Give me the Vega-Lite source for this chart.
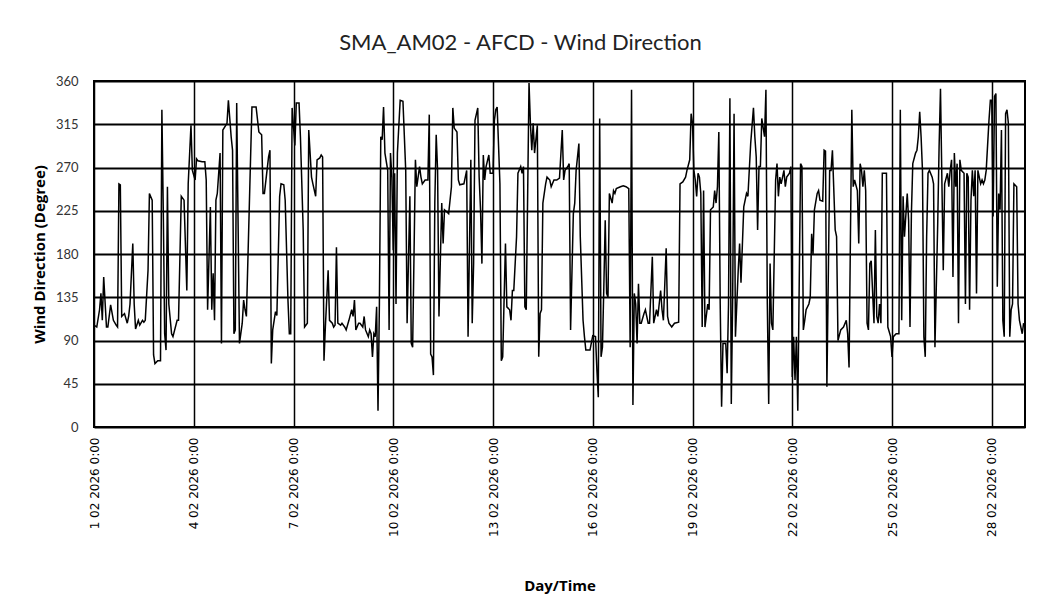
{
  "$schema": "https://vega.github.io/schema/vega-lite/v6.json",
  "width": 931,
  "height": 346,
  "autosize": {"type": "none"},
  "padding": {"left": 94, "top": 81, "right": 16, "bottom": 178},
  "background": "white",
  "title": {
    "text": "SMA_AM02 - AFCD - Wind Direction",
    "font": "Lato",
    "fontSize": 22,
    "fontWeight": "normal",
    "color": "#222222",
    "anchor": "middle",
    "dx": -39,
    "offset": 20
  },
  "config": {
    "view": {"stroke": "black", "strokeWidth": 2},
    "axis": {"gridColor": "black", "gridOpacity": 1, "domain": false, "ticks": false}
  },
  "data": {
    "values": [
{"t":"2026-02-01T00:00","v":106},{"t":"2026-02-01T02:00","v":104},{"t":"2026-02-01T04:00","v":122},{"t":"2026-02-01T05:00","v":139},{"t":"2026-02-01T06:00","v":111},{"t":"2026-02-01T07:00","v":156},{"t":"2026-02-01T09:00","v":104},{"t":"2026-02-01T10:00","v":104},{"t":"2026-02-01T12:00","v":127},{"t":"2026-02-01T14:00","v":111},{"t":"2026-02-01T16:00","v":106},{"t":"2026-02-01T17:00","v":104},{"t":"2026-02-01T18:00","v":253},{"t":"2026-02-01T19:00","v":252},{"t":"2026-02-01T20:00","v":115},{"t":"2026-02-01T22:00","v":118},
{"t":"2026-02-02T00:00","v":108},{"t":"2026-02-02T01:00","v":115},{"t":"2026-02-02T02:00","v":128},{"t":"2026-02-02T04:00","v":191},{"t":"2026-02-02T05:00","v":128},{"t":"2026-02-02T06:00","v":102},{"t":"2026-02-02T08:00","v":111},{"t":"2026-02-02T09:00","v":106},{"t":"2026-02-02T11:00","v":111},{"t":"2026-02-02T12:00","v":109},{"t":"2026-02-02T13:00","v":111},{"t":"2026-02-02T15:00","v":163},{"t":"2026-02-02T16:00","v":243},{"t":"2026-02-02T18:00","v":236},{"t":"2026-02-02T19:00","v":75},{"t":"2026-02-02T20:00","v":66},{"t":"2026-02-02T22:00","v":69},
{"t":"2026-02-03T00:00","v":69},{"t":"2026-02-03T01:00","v":330},{"t":"2026-02-03T02:00","v":226},{"t":"2026-02-03T03:00","v":97},{"t":"2026-02-03T04:00","v":80},{"t":"2026-02-03T05:00","v":250},{"t":"2026-02-03T06:00","v":128},{"t":"2026-02-03T08:00","v":97},{"t":"2026-02-03T09:00","v":94},{"t":"2026-02-03T12:00","v":111},{"t":"2026-02-03T13:00","v":111},{"t":"2026-02-03T15:00","v":240},{"t":"2026-02-03T17:00","v":236},{"t":"2026-02-03T19:00","v":142},{"t":"2026-02-03T20:00","v":253},{"t":"2026-02-03T22:00","v":314},{"t":"2026-02-03T23:00","v":267},
{"t":"2026-02-04T01:00","v":257},{"t":"2026-02-04T02:00","v":279},{"t":"2026-02-04T03:00","v":277},{"t":"2026-02-04T06:00","v":276},{"t":"2026-02-04T08:00","v":276},{"t":"2026-02-04T09:00","v":257},{"t":"2026-02-04T10:00","v":122},{"t":"2026-02-04T12:00","v":229},{"t":"2026-02-04T13:00","v":122},{"t":"2026-02-04T14:00","v":160},{"t":"2026-02-04T15:00","v":111},{"t":"2026-02-04T16:00","v":236},{"t":"2026-02-04T17:00","v":243},{"t":"2026-02-04T19:00","v":285},{"t":"2026-02-04T20:00","v":87},{"t":"2026-02-04T21:00","v":309},
{"t":"2026-02-05T00:00","v":316},{"t":"2026-02-05T01:00","v":340},{"t":"2026-02-05T03:00","v":302},{"t":"2026-02-05T04:00","v":288},{"t":"2026-02-05T05:00","v":97},{"t":"2026-02-05T06:00","v":101},{"t":"2026-02-05T07:00","v":337},{"t":"2026-02-05T09:00","v":87},{"t":"2026-02-05T11:00","v":108},{"t":"2026-02-05T12:00","v":132},{"t":"2026-02-05T13:00","v":122},{"t":"2026-02-05T14:00","v":115},{"t":"2026-02-05T17:00","v":279},{"t":"2026-02-05T18:00","v":333},{"t":"2026-02-05T21:00","v":333},{"t":"2026-02-05T23:00","v":307},
{"t":"2026-02-06T01:00","v":304},{"t":"2026-02-06T02:00","v":243},{"t":"2026-02-06T03:00","v":243},{"t":"2026-02-06T06:00","v":281},{"t":"2026-02-06T07:00","v":288},{"t":"2026-02-06T08:00","v":66},{"t":"2026-02-06T09:00","v":101},{"t":"2026-02-06T11:00","v":120},{"t":"2026-02-06T12:00","v":116},{"t":"2026-02-06T14:00","v":240},{"t":"2026-02-06T15:00","v":253},{"t":"2026-02-06T17:00","v":252},{"t":"2026-02-06T18:00","v":236},{"t":"2026-02-06T20:00","v":132},{"t":"2026-02-06T21:00","v":97},{"t":"2026-02-06T22:00","v":97},{"t":"2026-02-06T23:00","v":332},
{"t":"2026-02-07T01:00","v":293},{"t":"2026-02-07T02:00","v":337},{"t":"2026-02-07T04:00","v":337},{"t":"2026-02-07T05:00","v":302},{"t":"2026-02-07T07:00","v":205},{"t":"2026-02-07T08:00","v":104},{"t":"2026-02-07T10:00","v":108},{"t":"2026-02-07T11:00","v":309},{"t":"2026-02-07T13:00","v":260},{"t":"2026-02-07T14:00","v":253},{"t":"2026-02-07T16:00","v":240},{"t":"2026-02-07T17:00","v":278},{"t":"2026-02-07T19:00","v":280},{"t":"2026-02-07T20:00","v":283},{"t":"2026-02-07T21:00","v":281},{"t":"2026-02-07T22:00","v":69},{"t":"2026-02-07T23:00","v":104},
{"t":"2026-02-08T01:00","v":163},{"t":"2026-02-08T02:00","v":111},{"t":"2026-02-08T04:00","v":108},{"t":"2026-02-08T05:00","v":104},{"t":"2026-02-08T06:00","v":106},{"t":"2026-02-08T07:00","v":187},{"t":"2026-02-08T08:00","v":108},{"t":"2026-02-08T10:00","v":106},{"t":"2026-02-08T11:00","v":108},{"t":"2026-02-08T13:00","v":104},{"t":"2026-02-08T14:00","v":101},{"t":"2026-02-08T16:00","v":111},{"t":"2026-02-08T18:00","v":122},{"t":"2026-02-08T19:00","v":115},{"t":"2026-02-08T20:00","v":132},{"t":"2026-02-08T21:00","v":101},{"t":"2026-02-08T23:00","v":108},
{"t":"2026-02-09T00:00","v":108},{"t":"2026-02-09T02:00","v":104},{"t":"2026-02-09T03:00","v":115},{"t":"2026-02-09T04:00","v":101},{"t":"2026-02-09T06:00","v":94},{"t":"2026-02-09T07:00","v":101},{"t":"2026-02-09T08:00","v":97},{"t":"2026-02-09T09:00","v":73},{"t":"2026-02-09T10:00","v":97},{"t":"2026-02-09T11:00","v":94},{"t":"2026-02-09T12:00","v":125},{"t":"2026-02-09T13:00","v":17},{"t":"2026-02-09T14:00","v":128},{"t":"2026-02-09T15:00","v":302},{"t":"2026-02-09T16:00","v":299},{"t":"2026-02-09T17:00","v":333},{"t":"2026-02-09T18:00","v":285},{"t":"2026-02-09T20:00","v":267},{"t":"2026-02-09T21:00","v":101},{"t":"2026-02-09T22:00","v":285},{"t":"2026-02-09T23:00","v":260},
{"t":"2026-02-10T00:00","v":184},{"t":"2026-02-10T01:00","v":264},{"t":"2026-02-10T02:00","v":128},{"t":"2026-02-10T03:00","v":285},{"t":"2026-02-10T05:00","v":340},{"t":"2026-02-10T07:00","v":339},{"t":"2026-02-10T09:00","v":267},{"t":"2026-02-10T10:00","v":108},{"t":"2026-02-10T12:00","v":240},{"t":"2026-02-10T13:00","v":87},{"t":"2026-02-10T14:00","v":83},{"t":"2026-02-10T16:00","v":278},{"t":"2026-02-10T17:00","v":250},{"t":"2026-02-10T19:00","v":271},{"t":"2026-02-10T20:00","v":260},{"t":"2026-02-10T21:00","v":253},{"t":"2026-02-10T23:00","v":257},
{"t":"2026-02-11T01:00","v":257},{"t":"2026-02-11T02:00","v":325},{"t":"2026-02-11T03:00","v":76},{"t":"2026-02-11T04:00","v":73},{"t":"2026-02-11T05:00","v":54},{"t":"2026-02-11T06:00","v":233},{"t":"2026-02-11T07:00","v":304},{"t":"2026-02-11T08:00","v":267},{"t":"2026-02-11T09:00","v":115},{"t":"2026-02-11T11:00","v":233},{"t":"2026-02-11T12:00","v":191},{"t":"2026-02-11T13:00","v":226},{"t":"2026-02-11T16:00","v":222},{"t":"2026-02-11T18:00","v":250},{"t":"2026-02-11T19:00","v":332},{"t":"2026-02-11T20:00","v":311},{"t":"2026-02-11T22:00","v":307},{"t":"2026-02-11T23:00","v":257},
{"t":"2026-02-12T00:00","v":252},{"t":"2026-02-12T03:00","v":253},{"t":"2026-02-12T05:00","v":267},{"t":"2026-02-12T06:00","v":94},{"t":"2026-02-12T08:00","v":278},{"t":"2026-02-12T09:00","v":108},{"t":"2026-02-12T10:00","v":170},{"t":"2026-02-12T11:00","v":319},{"t":"2026-02-12T13:00","v":332},{"t":"2026-02-12T14:00","v":260},{"t":"2026-02-12T15:00","v":226},{"t":"2026-02-12T16:00","v":170},{"t":"2026-02-12T17:00","v":283},{"t":"2026-02-12T18:00","v":257},{"t":"2026-02-12T19:00","v":271},{"t":"2026-02-12T21:00","v":283},{"t":"2026-02-12T22:00","v":264},
{"t":"2026-02-13T00:00","v":264},{"t":"2026-02-13T01:00","v":319},{"t":"2026-02-13T02:00","v":330},{"t":"2026-02-13T03:00","v":333},{"t":"2026-02-13T05:00","v":253},{"t":"2026-02-13T06:00","v":69},{"t":"2026-02-13T07:00","v":73},{"t":"2026-02-13T09:00","v":191},{"t":"2026-02-13T10:00","v":125},{"t":"2026-02-13T12:00","v":122},{"t":"2026-02-13T13:00","v":111},{"t":"2026-02-13T14:00","v":142},{"t":"2026-02-13T15:00","v":142},{"t":"2026-02-13T17:00","v":198},{"t":"2026-02-13T18:00","v":264},{"t":"2026-02-13T20:00","v":271},{"t":"2026-02-13T21:00","v":264},{"t":"2026-02-13T22:00","v":271},{"t":"2026-02-13T23:00","v":125},
{"t":"2026-02-14T00:00","v":122},{"t":"2026-02-14T02:00","v":358},{"t":"2026-02-14T03:00","v":316},{"t":"2026-02-14T04:00","v":288},{"t":"2026-02-14T05:00","v":316},{"t":"2026-02-14T06:00","v":285},{"t":"2026-02-14T08:00","v":314},{"t":"2026-02-14T09:00","v":73},{"t":"2026-02-14T10:00","v":118},{"t":"2026-02-14T11:00","v":122},{"t":"2026-02-14T12:00","v":233},{"t":"2026-02-14T14:00","v":253},{"t":"2026-02-14T15:00","v":260},{"t":"2026-02-14T17:00","v":257},{"t":"2026-02-14T18:00","v":250},{"t":"2026-02-14T20:00","v":257},{"t":"2026-02-14T22:00","v":257},
{"t":"2026-02-15T00:00","v":259},{"t":"2026-02-15T02:00","v":309},{"t":"2026-02-15T03:00","v":257},{"t":"2026-02-15T04:00","v":267},{"t":"2026-02-15T06:00","v":271},{"t":"2026-02-15T07:00","v":274},{"t":"2026-02-15T08:00","v":101},{"t":"2026-02-15T10:00","v":222},{"t":"2026-02-15T11:00","v":233},{"t":"2026-02-15T12:00","v":267},{"t":"2026-02-15T14:00","v":295},{"t":"2026-02-15T15:00","v":198},{"t":"2026-02-15T17:00","v":111},{"t":"2026-02-15T18:00","v":94},{"t":"2026-02-15T19:00","v":80},{"t":"2026-02-15T21:00","v":80},{"t":"2026-02-15T22:00","v":80},
{"t":"2026-02-16T00:00","v":95},{"t":"2026-02-16T02:00","v":94},{"t":"2026-02-16T03:00","v":59},{"t":"2026-02-16T04:00","v":31},{"t":"2026-02-16T05:00","v":321},{"t":"2026-02-16T06:00","v":73},{"t":"2026-02-16T07:00","v":83},{"t":"2026-02-16T08:00","v":146},{"t":"2026-02-16T09:00","v":215},{"t":"2026-02-16T10:00","v":139},{"t":"2026-02-16T11:00","v":135},{"t":"2026-02-16T12:00","v":243},{"t":"2026-02-16T14:00","v":233},{"t":"2026-02-16T15:00","v":246},{"t":"2026-02-16T16:00","v":243},{"t":"2026-02-16T17:00","v":248},{"t":"2026-02-16T20:00","v":250},{"t":"2026-02-16T22:00","v":251},
{"t":"2026-02-17T00:00","v":250},{"t":"2026-02-17T02:00","v":248},{"t":"2026-02-17T03:00","v":83},{"t":"2026-02-17T04:00","v":351},{"t":"2026-02-17T05:00","v":23},{"t":"2026-02-17T06:00","v":139},{"t":"2026-02-17T07:00","v":128},{"t":"2026-02-17T08:00","v":87},{"t":"2026-02-17T09:00","v":149},{"t":"2026-02-17T10:00","v":108},{"t":"2026-02-17T11:00","v":108},{"t":"2026-02-17T13:00","v":118},{"t":"2026-02-17T14:00","v":122},{"t":"2026-02-17T16:00","v":108},{"t":"2026-02-17T17:00","v":108},{"t":"2026-02-17T19:00","v":177},{"t":"2026-02-17T20:00","v":108},{"t":"2026-02-17T22:00","v":122},{"t":"2026-02-17T23:00","v":115},
{"t":"2026-02-18T01:00","v":142},{"t":"2026-02-18T02:00","v":122},{"t":"2026-02-18T03:00","v":111},{"t":"2026-02-18T05:00","v":186},{"t":"2026-02-18T06:00","v":115},{"t":"2026-02-18T07:00","v":108},{"t":"2026-02-18T09:00","v":104},{"t":"2026-02-18T11:00","v":108},{"t":"2026-02-18T14:00","v":109},{"t":"2026-02-18T15:00","v":253},{"t":"2026-02-18T17:00","v":255},{"t":"2026-02-18T19:00","v":260},{"t":"2026-02-18T20:00","v":267},{"t":"2026-02-18T22:00","v":278},{"t":"2026-02-18T23:00","v":326},
{"t":"2026-02-19T00:00","v":316},{"t":"2026-02-19T01:00","v":267},{"t":"2026-02-19T02:00","v":257},{"t":"2026-02-19T03:00","v":240},{"t":"2026-02-19T04:00","v":264},{"t":"2026-02-19T05:00","v":260},{"t":"2026-02-19T06:00","v":243},{"t":"2026-02-19T07:00","v":104},{"t":"2026-02-19T08:00","v":246},{"t":"2026-02-19T09:00","v":104},{"t":"2026-02-19T11:00","v":128},{"t":"2026-02-19T12:00","v":122},{"t":"2026-02-19T13:00","v":226},{"t":"2026-02-19T15:00","v":229},{"t":"2026-02-19T16:00","v":246},{"t":"2026-02-19T17:00","v":233},{"t":"2026-02-19T18:00","v":250},{"t":"2026-02-19T19:00","v":307},{"t":"2026-02-19T20:00","v":128},{"t":"2026-02-19T21:00","v":21},{"t":"2026-02-19T22:00","v":87},
{"t":"2026-02-20T00:00","v":87},{"t":"2026-02-20T01:00","v":56},{"t":"2026-02-20T02:00","v":128},{"t":"2026-02-20T03:00","v":342},{"t":"2026-02-20T04:00","v":24},{"t":"2026-02-20T05:00","v":135},{"t":"2026-02-20T06:00","v":326},{"t":"2026-02-20T07:00","v":94},{"t":"2026-02-20T09:00","v":163},{"t":"2026-02-20T10:00","v":191},{"t":"2026-02-20T11:00","v":150},{"t":"2026-02-20T13:00","v":229},{"t":"2026-02-20T15:00","v":243},{"t":"2026-02-20T16:00","v":240},{"t":"2026-02-20T18:00","v":295},{"t":"2026-02-20T20:00","v":332},{"t":"2026-02-20T21:00","v":302},{"t":"2026-02-20T22:00","v":281},{"t":"2026-02-20T23:00","v":205},
{"t":"2026-02-21T00:00","v":271},{"t":"2026-02-21T01:00","v":271},{"t":"2026-02-21T02:00","v":321},{"t":"2026-02-21T04:00","v":302},{"t":"2026-02-21T05:00","v":351},{"t":"2026-02-21T06:00","v":128},{"t":"2026-02-21T07:00","v":24},{"t":"2026-02-21T08:00","v":170},{"t":"2026-02-21T09:00","v":108},{"t":"2026-02-21T10:00","v":101},{"t":"2026-02-21T12:00","v":257},{"t":"2026-02-21T13:00","v":274},{"t":"2026-02-21T14:00","v":240},{"t":"2026-02-21T15:00","v":260},{"t":"2026-02-21T16:00","v":253},{"t":"2026-02-21T18:00","v":267},{"t":"2026-02-21T19:00","v":250},{"t":"2026-02-21T20:00","v":260},{"t":"2026-02-21T22:00","v":264},{"t":"2026-02-21T23:00","v":271},
{"t":"2026-02-22T00:00","v":52},{"t":"2026-02-22T01:00","v":94},{"t":"2026-02-22T02:00","v":49},{"t":"2026-02-22T03:00","v":94},{"t":"2026-02-22T04:00","v":17},{"t":"2026-02-22T06:00","v":274},{"t":"2026-02-22T07:00","v":271},{"t":"2026-02-22T08:00","v":101},{"t":"2026-02-22T09:00","v":111},{"t":"2026-02-22T10:00","v":122},{"t":"2026-02-22T12:00","v":128},{"t":"2026-02-22T13:00","v":135},{"t":"2026-02-22T14:00","v":201},{"t":"2026-02-22T15:00","v":180},{"t":"2026-02-22T16:00","v":226},{"t":"2026-02-22T18:00","v":243},{"t":"2026-02-22T19:00","v":246},{"t":"2026-02-22T20:00","v":236},{"t":"2026-02-22T22:00","v":235},{"t":"2026-02-22T23:00","v":288},
{"t":"2026-02-23T00:00","v":287},{"t":"2026-02-23T01:00","v":42},{"t":"2026-02-23T03:00","v":267},{"t":"2026-02-23T04:00","v":267},{"t":"2026-02-23T05:00","v":288},{"t":"2026-02-23T07:00","v":205},{"t":"2026-02-23T08:00","v":198},{"t":"2026-02-23T09:00","v":90},{"t":"2026-02-23T11:00","v":101},{"t":"2026-02-23T13:00","v":104},{"t":"2026-02-23T15:00","v":111},{"t":"2026-02-23T16:00","v":97},{"t":"2026-02-23T17:00","v":62},{"t":"2026-02-23T18:00","v":198},{"t":"2026-02-23T19:00","v":330},{"t":"2026-02-23T20:00","v":250},{"t":"2026-02-23T21:00","v":257},{"t":"2026-02-23T23:00","v":246},
{"t":"2026-02-24T00:00","v":191},{"t":"2026-02-24T01:00","v":274},{"t":"2026-02-24T02:00","v":267},{"t":"2026-02-24T03:00","v":250},{"t":"2026-02-24T04:00","v":267},{"t":"2026-02-24T05:00","v":246},{"t":"2026-02-24T06:00","v":108},{"t":"2026-02-24T07:00","v":101},{"t":"2026-02-24T08:00","v":170},{"t":"2026-02-24T09:00","v":173},{"t":"2026-02-24T11:00","v":108},{"t":"2026-02-24T12:00","v":205},{"t":"2026-02-24T13:00","v":115},{"t":"2026-02-24T14:00","v":108},{"t":"2026-02-24T15:00","v":128},{"t":"2026-02-24T16:00","v":108},{"t":"2026-02-24T17:00","v":264},{"t":"2026-02-24T20:00","v":264},{"t":"2026-02-24T21:00","v":104},{"t":"2026-02-24T23:00","v":94},
{"t":"2026-02-25T00:00","v":73},{"t":"2026-02-25T01:00","v":94},{"t":"2026-02-25T03:00","v":97},{"t":"2026-02-25T05:00","v":97},{"t":"2026-02-25T06:00","v":330},{"t":"2026-02-25T07:00","v":111},{"t":"2026-02-25T08:00","v":240},{"t":"2026-02-25T09:00","v":198},{"t":"2026-02-25T11:00","v":243},{"t":"2026-02-25T12:00","v":215},{"t":"2026-02-25T13:00","v":104},{"t":"2026-02-25T14:00","v":222},{"t":"2026-02-25T15:00","v":274},{"t":"2026-02-25T17:00","v":285},{"t":"2026-02-25T18:00","v":288},{"t":"2026-02-25T19:00","v":302},{"t":"2026-02-25T20:00","v":328},{"t":"2026-02-25T21:00","v":302},{"t":"2026-02-25T22:00","v":267},{"t":"2026-02-25T23:00","v":94},
{"t":"2026-02-26T00:00","v":73},{"t":"2026-02-26T01:00","v":198},{"t":"2026-02-26T02:00","v":264},{"t":"2026-02-26T03:00","v":267},{"t":"2026-02-26T05:00","v":260},{"t":"2026-02-26T06:00","v":253},{"t":"2026-02-26T07:00","v":83},{"t":"2026-02-26T09:00","v":212},{"t":"2026-02-26T10:00","v":292},{"t":"2026-02-26T11:00","v":352},{"t":"2026-02-26T13:00","v":163},{"t":"2026-02-26T14:00","v":253},{"t":"2026-02-26T16:00","v":264},{"t":"2026-02-26T17:00","v":250},{"t":"2026-02-26T18:00","v":267},{"t":"2026-02-26T19:00","v":278},{"t":"2026-02-26T20:00","v":156},{"t":"2026-02-26T21:00","v":285},{"t":"2026-02-26T22:00","v":250},{"t":"2026-02-26T23:00","v":274},
{"t":"2026-02-27T00:00","v":108},{"t":"2026-02-27T01:00","v":278},{"t":"2026-02-27T02:00","v":267},{"t":"2026-02-27T04:00","v":264},{"t":"2026-02-27T05:00","v":128},{"t":"2026-02-27T06:00","v":264},{"t":"2026-02-27T07:00","v":260},{"t":"2026-02-27T08:00","v":122},{"t":"2026-02-27T09:00","v":236},{"t":"2026-02-27T10:00","v":267},{"t":"2026-02-27T11:00","v":240},{"t":"2026-02-27T12:00","v":267},{"t":"2026-02-27T13:00","v":139},{"t":"2026-02-27T14:00","v":267},{"t":"2026-02-27T16:00","v":253},{"t":"2026-02-27T17:00","v":257},{"t":"2026-02-27T18:00","v":253},{"t":"2026-02-27T19:00","v":257},{"t":"2026-02-27T20:00","v":267},{"t":"2026-02-27T22:00","v":319},{"t":"2026-02-27T23:00","v":340},
{"t":"2026-02-28T00:00","v":340},{"t":"2026-02-28T01:00","v":219},{"t":"2026-02-28T02:00","v":344},{"t":"2026-02-28T03:00","v":347},{"t":"2026-02-28T04:00","v":146},{"t":"2026-02-28T05:00","v":243},{"t":"2026-02-28T06:00","v":226},{"t":"2026-02-28T07:00","v":309},{"t":"2026-02-28T08:00","v":111},{"t":"2026-02-28T09:00","v":94},{"t":"2026-02-28T10:00","v":326},{"t":"2026-02-28T11:00","v":330},{"t":"2026-02-28T12:00","v":316},{"t":"2026-02-28T13:00","v":94},{"t":"2026-02-28T14:00","v":122},{"t":"2026-02-28T15:00","v":128},{"t":"2026-02-28T16:00","v":253},{"t":"2026-02-28T18:00","v":250},{"t":"2026-02-28T19:00","v":128},{"t":"2026-02-28T20:00","v":111},{"t":"2026-02-28T22:00","v":97},{"t":"2026-02-28T23:00","v":108}
    ]
  },
  "mark": {"type": "line", "color": "black", "strokeWidth": 1.5, "clip": true},
  "encoding": {
    "x": {
      "field": "t",
      "type": "temporal",
      "scale": {"domain": [{"year": 2026, "month": 2, "date": 1}, {"year": 2026, "month": 3, "date": 1}]},
      "axis": {
        "title": "Day/Time",
        "titleFont": "Open Sans",
        "titleFontSize": 15,
        "titleFontWeight": "bold",
        "titleColor": "black",
        "titlePadding": 42,
        "format": "%-d %m %Y %-H:%M",
        "labelAngle": 270,
        "labelFont": "DejaVu Sans",
        "labelFontSize": 12,
        "labelColor": "black",
        "labelPadding": 10,
        "labelOverlap": false,
        "gridWidth": 1.5,
        "values": [
          {"year": 2026, "month": 2, "date": 1},
          {"year": 2026, "month": 2, "date": 4},
          {"year": 2026, "month": 2, "date": 7},
          {"year": 2026, "month": 2, "date": 10},
          {"year": 2026, "month": 2, "date": 13},
          {"year": 2026, "month": 2, "date": 16},
          {"year": 2026, "month": 2, "date": 19},
          {"year": 2026, "month": 2, "date": 22},
          {"year": 2026, "month": 2, "date": 25},
          {"year": 2026, "month": 2, "date": 28}
        ]
      }
    },
    "y": {
      "field": "v",
      "type": "quantitative",
      "scale": {"domain": [0, 360], "nice": false},
      "axis": {
        "title": "Wind Direction (Degree)",
        "titleFont": "Open Sans",
        "titleFontSize": 15,
        "titleFontWeight": "bold",
        "titleColor": "black",
        "titlePadding": 8,
        "values": [0, 45, 90, 135, 180, 225, 270, 315, 360],
        "labelFont": "Lato",
        "labelFontSize": 13,
        "labelColor": "#333333",
        "labelPadding": 16,
        "gridWidth": 2
      }
    }
  }
}
